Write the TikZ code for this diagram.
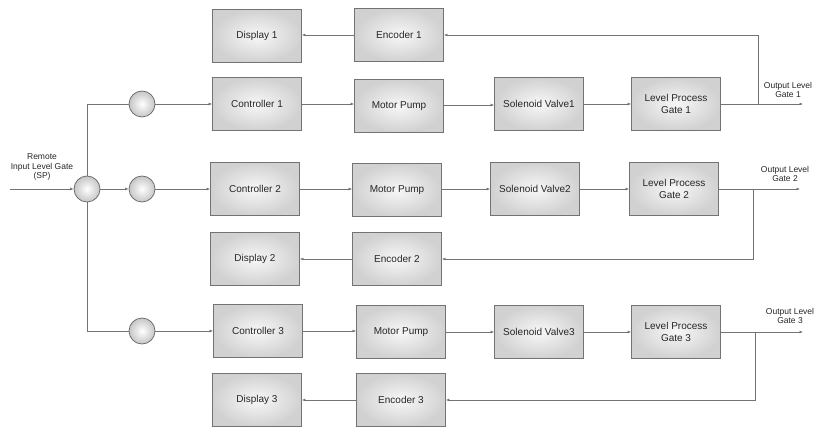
\documentclass[tikz,border=0pt]{standalone}
\usepackage{fontspec}
\setmainfont{Liberation Sans}
\usetikzlibrary{arrows.meta}
\begin{document}
\begin{tikzpicture}[x=1pt,y=-1pt,
  blk/.style={rectangle, draw=black!55, line width=0.7pt,
    inner color=gray!6, outer color=gray!36,
    minimum width=89pt, minimum height=53pt,
    font=\fontsize{10}{11.5}\selectfont, text=black!85, align=center},
  sum/.style={circle, draw=black!60, line width=0.7pt,
    inner color=white, outer color=gray!45, minimum size=26pt, inner sep=0pt},
  wire/.style={draw=black!55, line width=0.6pt},
  flow/.style={wire, -{Latex[length=3.5pt,width=2.8pt]}},
  lbl/.style={font=\fontsize{8.5}{9.5}\selectfont, text=black!85, align=center}]
\useasboundingbox (0,0) rectangle (821,430);

% loop 1
\node[blk] (disp1) at (257,36)  {Display 1};
\node[blk] (enc1)  at (399,35)  {Encoder 1};
\node[blk] (ctl1)  at (257,104) {Controller 1};
\node[blk] (pump1) at (399,106) {Motor Pump};
\node[blk] (sv1)   at (539,104) {Solenoid Valve1};
\node[blk] (lp1)   at (676,104) {Level Process\\Gate 1};

% loop 2
\node[blk] (ctl2)  at (255,189) {Controller 2};
\node[blk] (pump2) at (397,190) {Motor Pump};
\node[blk] (sv2)   at (535,189) {Solenoid Valve2};
\node[blk] (lp2)   at (674,189) {Level Process\\Gate 2};
\node[blk] (disp2) at (255,259) {Display 2};
\node[blk] (enc2)  at (397,259) {Encoder 2};

% loop 3
\node[blk] (ctl3)  at (258,331) {Controller 3};
\node[blk] (pump3) at (401,332) {Motor Pump};
\node[blk] (sv3)   at (539,332) {Solenoid Valve3};
\node[blk] (lp3)   at (676,332) {Level Process\\Gate 3};
\node[blk] (disp3) at (257,400) {Display 3};
\node[blk] (enc3)  at (401,400) {Encoder 3};

% summing junctions
\node[sum] (main) at (87,189)  {};
\node[sum] (s1)   at (142,104) {};
\node[sum] (s2)   at (142,189) {};
\node[sum] (s3)   at (142,331) {};

% set point input
\coordinate (in) at (10,189);
\node[lbl] (sp) at (42,167) {Remote\\Input Level Gate\\(SP)};
\draw[flow] (in) -- (main);

% distribution to the three loops
\draw[wire] (main.north) |- (s1.west);
\draw[wire] (main.south) |- (s3.west);
\draw[flow] (main) -- (s2);
\draw[flow] (s1) -- (ctl1.west |- s1);
\draw[flow] (s2) -- (ctl2.west |- s2);
\draw[flow] (s3) -- (ctl3.west |- s3);

% forward paths
\draw[flow] (ctl1.east |- 0,104) -- (pump1.west |- 0,104);
\draw[flow] (pump1.east |- 0,105) -- (sv1.west |- 0,105);
\draw[flow] (sv1.east |- 0,104) -- (lp1.west |- 0,104);
\draw[flow] (ctl2.east |- 0,189) -- (pump2.west |- 0,189);
\draw[flow] (pump2.east |- 0,189) -- (sv2.west |- 0,189);
\draw[flow] (sv2.east |- 0,189) -- (lp2.west |- 0,189);
\draw[flow] (ctl3.east |- 0,331) -- (pump3.west |- 0,331);
\draw[flow] (pump3.east |- 0,332) -- (sv3.west |- 0,332);
\draw[flow] (sv3.east |- 0,332) -- (lp3.west |- 0,332);

% outputs
\coordinate (out1) at (803,104);
\coordinate (out2) at (800,189);
\coordinate (out3) at (803,332);
\draw[flow] (lp1.east |- out1) -- (out1);
\draw[flow] (lp2.east |- out2) -- (out2);
\draw[flow] (lp3.east |- out3) -- (out3);
\node[lbl] (o1) at (788,90)  {Output Level\\Gate 1};
\node[lbl] (o2) at (785,174) {Output Level\\Gate 2};
\node[lbl] (o3) at (790,316) {Output Level\\Gate 3};

% feedback to encoders and displays
\coordinate (t1) at (758,104);
\coordinate (t2) at (753,189);
\coordinate (t3) at (755,332);
\draw[flow] (t1) |- (enc1.east);
\draw[flow] (t2) |- (enc2.east);
\draw[flow] (t3) |- (enc3.east);
\draw[flow] (enc1) -- (disp1.east |- enc1);
\draw[flow] (enc2) -- (disp2);
\draw[flow] (enc3) -- (disp3);
\end{tikzpicture}
\end{document}
